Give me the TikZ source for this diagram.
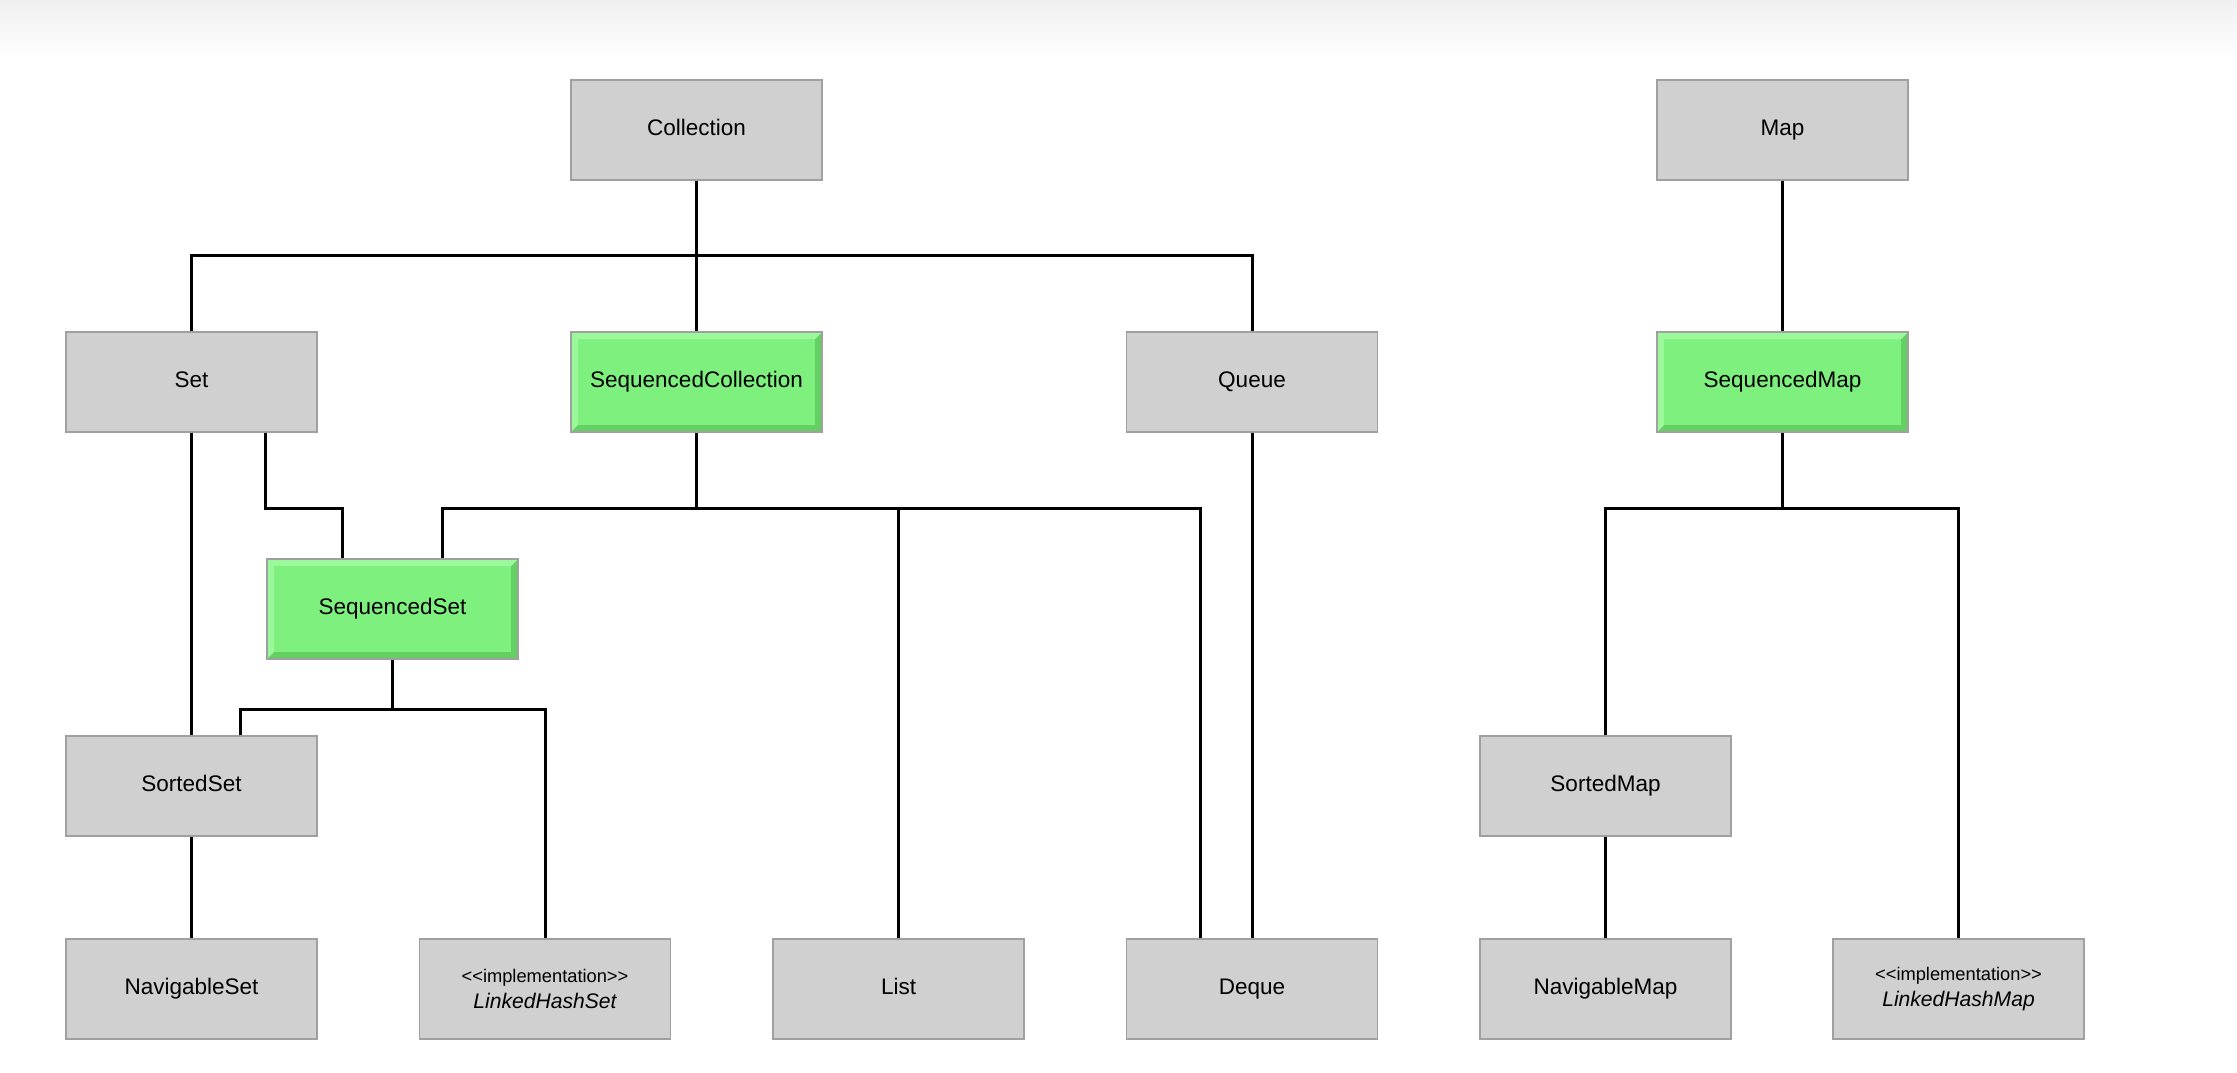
\documentclass[tikz,border=0pt]{standalone}
\usepackage{fontspec}
\setmainfont{Liberation Sans}
\usepackage{xcolor}
\usetikzlibrary{positioning, calc}
\definecolor{boxgray}{RGB}{208,208,208}
\definecolor{boxedge}{RGB}{160,160,160}
\definecolor{seqgreen}{RGB}{126,240,126}
\definecolor{seqdark}{RGB}{100,208,100}
\definecolor{seqlight}{RGB}{155,248,155}
\tikzset{
  cell/.style={rectangle, draw=boxedge, line width=0.4pt, fill=boxgray, minimum width=2.51cm, minimum height=1.0cm, align=center},
  box/.style={cell, font=\fontsize{6.4}{7.6}\selectfont, text height=1.2ex, text depth=0.65ex},
  greenbox/.style={box, fill=seqgreen, path picture={
    \fill[seqdark] (path picture bounding box.south west) -- (path picture bounding box.south east) -- (path picture bounding box.north east)
      -- ([shift={(-2pt,-2pt)}]path picture bounding box.north east) -- ([shift={(-2pt,2pt)}]path picture bounding box.south east)
      -- ([shift={(2pt,2pt)}]path picture bounding box.south west) -- cycle;
    \fill[seqlight] (path picture bounding box.south west) -- (path picture bounding box.north west) -- (path picture bounding box.north east)
      -- ([shift={(-2pt,-2pt)}]path picture bounding box.north east) -- ([shift={(2pt,-2pt)}]path picture bounding box.north west)
      -- ([shift={(2pt,2pt)}]path picture bounding box.south west) -- cycle;}},
  implbox/.style={cell, font=\fontsize{6}{7.4}\selectfont\itshape},
  link/.style={draw=black, line width=0.85pt},
}
\newcommand{\stereo}{{\fontsize{5.2}{6}\selectfont\upshape <{}<implementation>{}>}}

\begin{document}
\begin{tikzpicture}[x=0.01cm, y=-0.01cm]
\useasboundingbox (0,0) rectangle (2237,1072);
\shade[top color=black!6, bottom color=white] (0,0) rectangle (2237,58);

% top row
\node[box] (coll) at (696.5,130) {Collection};
\node[box] (map) at (1782.5,130) {Map};
% second row
\node[box] (set) at (191.5,382) {Set};
\node[greenbox] (seqcoll) at (696.5,382) {SequencedCollection};
\node[box] (queue) at (1252,382) {Queue};
\node[greenbox] (seqmap) at (1782.5,382) {SequencedMap};
% third row
\node[greenbox] (seqset) at (392.5,609) {SequencedSet};
\node[box] (sortset) at (191.5,786) {SortedSet};
\node[box] (sortmap) at (1605.5,786) {SortedMap};
% bottom row
\node[box] (navset) at (191.5,989) {NavigableSet};
\node[implbox] (lhset) at (545,989) {\stereo\\LinkedHashSet};
\node[box] (list) at (898.5,989) {List};
\node[box] (deque) at (1252,989) {Deque};
\node[box] (navmap) at (1605.5,989) {NavigableMap};
\node[implbox] (lhmap) at (1958.5,989) {\stereo\\LinkedHashMap};

\coordinate (collbus) at (696.5,255);
\coordinate (seqbus) at (696.5,508);
\coordinate (ssbus) at (392.5,709);
\coordinate (mapbus) at (1782.5,508);

\draw[link] (coll) -- (seqcoll);
\draw[link] (set) |- (collbus) -| (queue);
\draw[link] (map) -- (seqmap);
\draw[link] (set) -- (sortset);
\draw[link] ([xshift=7.4mm]set.south) -- ++(0,76) -| ([xshift=-5mm]seqset.north);
\draw[link] (seqcoll) -- (seqbus);
\draw[link] ([xshift=5mm]seqset.north) |- (seqbus) -| ([xshift=-5.1mm]deque.north);
\draw[link] (list) |- (seqbus);
\draw[link] (queue) -- (deque);
\draw[link] (seqset) -- (ssbus);
\draw[link] ([xshift=4.85mm]sortset.north) |- (ssbus) -| (lhset);
\draw[link] (sortset) -- (navset);
\draw[link] (seqmap) -- (mapbus);
\draw[link] (sortmap) |- (mapbus) -| (lhmap);
\draw[link] (sortmap) -- (navmap);
\end{tikzpicture}
\end{document}
